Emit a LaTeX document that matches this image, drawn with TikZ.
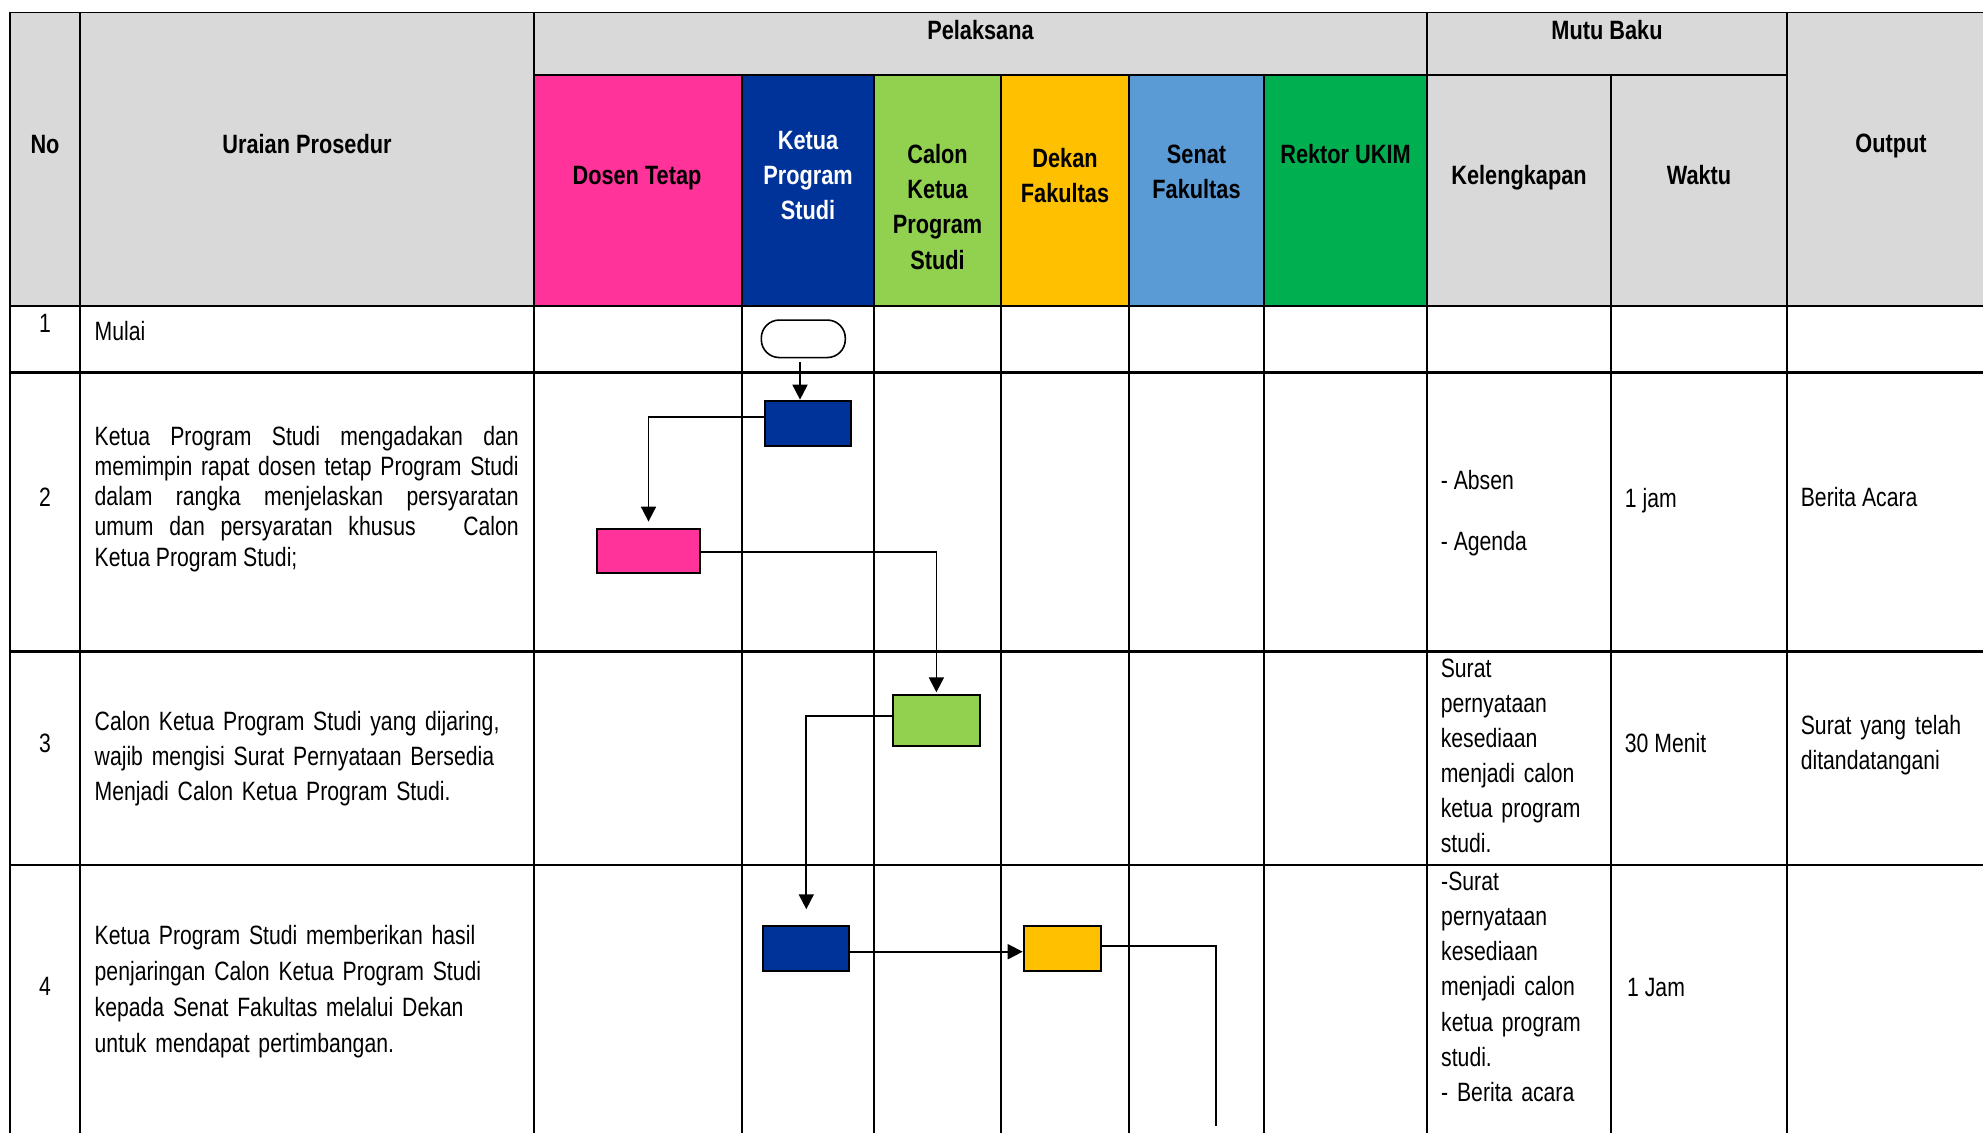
\documentclass[tikz,border=0pt]{standalone}
\usepackage{fontspec}
\setmainfont{Liberation Sans}[FakeStretch=0.80, BoldFeatures={FakeStretch=0.82}]
\usetikzlibrary{arrows.meta}
\definecolor{hdrgray}{HTML}{D9D9D9}
\definecolor{cpink}{HTML}{FF3399}
\definecolor{cblue}{HTML}{003399}
\definecolor{cgreen}{HTML}{92D050}
\definecolor{cyellow}{HTML}{FFC000}
\definecolor{csenat}{HTML}{5B9BD5}
\definecolor{crektor}{HTML}{00B050}
\newcommand\fsz{\fontsize{26.5}{30.3}\selectfont}
\newcommand\fszw{\fontsize{26.5}{35}\selectfont}
\newcommand\jl[1]{\leavevmode\hbox to 424pt{#1}\par}
\begin{document}
\begin{tikzpicture}[x=1pt,y=-1pt,
  txt/.style={inner sep=0pt, anchor=base west, font=\fsz},
  ptxt/.style={inner sep=0pt, anchor=base west, font=\fszw, align=left, text width=#1},
  num/.style={inner sep=0pt, anchor=base, font=\fsz},
  hdr/.style={inner sep=0pt, anchor=base, font=\bfseries\fsz},
  mhdr/.style={inner sep=0pt, anchor=base, font=\bfseries\fontsize{26.5}{35.3}\selectfont, align=center, text width=#1},
  hline/.style={line width=2.5pt},
  vline/.style={line width=1.8pt},
  fbox/.style={draw=black, line width=2pt, inner sep=0pt},
  term/.style={draw=black, line width=1.6pt, fill=white, rounded corners=18pt, minimum width=84pt, minimum height=37.5pt, inner sep=0pt},
  arr/.style={line width=1.8pt, -{Triangle[length=15pt,width=15pt]}},
  conn/.style={line width=1.6pt}]
\useasboundingbox (0,0) rectangle (1983,1133);
\fill[white] (0,0) rectangle (1983,1133);
% header fills
\fill[hdrgray] (10,12.3) rectangle (1983,306);
\fill[cpink] (534,75) rectangle (742,306);
\fill[cblue] (742,75) rectangle (874,306);
\fill[cgreen] (874,75) rectangle (1001,306);
\fill[cyellow] (1001,75) rectangle (1129,306);
\fill[csenat] (1129,75) rectangle (1264,306);
\fill[crektor] (1264,75) rectangle (1427,306);
% grid
\draw[line width=1.6pt] (10,12.3) -- (1983,12.3);
\draw[line width=1.6pt] (534,75) -- (1787,75);
\foreach \yy in {306,372.5,651.5,865} \draw[hline] (10,\yy) -- (1983,\yy);
\foreach \xx in {10,80,534,1427,1787} \draw[vline] (\xx,12.3) -- (\xx,1133);
\foreach \xx in {742,874,1001,1129,1264,1611} \draw[vline] (\xx,75) -- (\xx,1133);
% header texts
\node[hdr] (hno) at (45,153) {No};
\node[hdr] (hur) at (307,153) {Uraian Prosedur};
\node[hdr] (hpel) at (980.5,39) {Pelaksana};
\node[hdr] (hmut) at (1607,39) {Mutu Baku};
\node[hdr] (hout) at (1891,152.5) {Output};
\node[hdr] (hdos) at (637,184) {Dosen Tetap};
\node[mhdr=125pt, text=white] (hket) at (808,149) {Ketua\\Program\\Studi};
\node[mhdr=120pt] (hcal) at (937.5,163.3) {Calon\\Ketua\\Program\\Studi};
\node[mhdr=120pt] (hdek) at (1065,167.3) {Dekan\\Fakultas};
\node[mhdr=125pt] (hsen) at (1196.5,163.3) {Senat\\Fakultas};
\node[hdr] (hrek) at (1345.5,163.3) {Rektor UKIM};
\node[hdr] (hkel) at (1519,184) {Kelengkapan};
\node[hdr] (hwak) at (1699,184) {Waktu};
% row numbers
\node[num] (r1) at (45,332) {1};
\node[num] (r2) at (45,506) {2};
\node[num] (r3) at (45,752) {3};
\node[num] (r4) at (45,995.7) {4};
% uraian
\node[txt] (u1) at (94.5,340.7) {Mulai};
\node[txt] (u2) at (94.5,445) {\parbox[t]{424pt}{\fsz\jl{Ketua Program Studi mengadakan dan}\jl{memimpin rapat dosen tetap Program Studi}\jl{dalam rangka menjelaskan persyaratan}\jl{umum dan persyaratan khusus\ \ \ Calon}Ketua Program Studi;}};
\node[ptxt=440pt, font=\fontsize{26.5}{34.8}\selectfont] (u3) at (94.5,730.5) {Calon Ketua Program Studi yang dijaring,\\wajib mengisi Surat Pernyataan Bersedia\\Menjadi Calon Ketua Program Studi.};
\node[ptxt=440pt, font=\fontsize{26.5}{36}\selectfont] (u4) at (94.5,944) {Ketua Program Studi memberikan hasil\\penjaringan Calon Ketua Program Studi\\kepada Senat Fakultas melalui Dekan\\untuk mendapat pertimbangan.};
% kelengkapan
\node[txt] (k2a) at (1440.6,489) {- Absen};
\node[txt] (k2b) at (1440.6,550) {- Agenda};
\node[ptxt=165pt] (k3) at (1440.6,677) {Surat\\pernyataan\\kesediaan\\menjadi calon\\ketua program\\studi.};
\node[ptxt=165pt, font=\fontsize{26.5}{35.3}\selectfont] (k4) at (1441,890) {-Surat\\pernyataan\\kesediaan\\menjadi calon\\ketua program\\studi.\\- Berita acara};
% waktu
\node[txt] (w2) at (1624.7,507.5) {1 jam};
\node[txt] (w3) at (1624.7,752) {30 Menit};
\node[txt] (w4) at (1627,996.7) {1 Jam};
% output
\node[txt] (o2) at (1800.6,506) {Berita Acara};
\node[ptxt=175pt] (o3) at (1800.6,734) {Surat yang telah\\ditandatangani};
% flow shapes
\node[term] (t1) at (803.3,338.8) {};
\node[fbox, fill=cblue, minimum width=86pt, minimum height=45.5pt] (b1) at (808.2,423.4) {};
\node[fbox, fill=cpink, minimum width=103pt, minimum height=44pt] (p1) at (648.5,551.2) {};
\node[fbox, fill=cgreen, minimum width=87.5pt, minimum height=51pt] (g1) at (936.4,720.8) {};
\node[fbox, fill=cblue, minimum width=86pt, minimum height=45.5pt] (b2) at (806.3,948.7) {};
\node[fbox, fill=cyellow, minimum width=77pt, minimum height=45.5pt] (y1) at (1062.2,948.7) {};
\coordinate (yend) at (1215.7,1126);
% connectors
\draw[arr, shorten <=3.5pt] ([xshift=-3.3pt]t1.south) -- ([xshift=-3.3pt]t1.south |- b1.north);
\draw[arr, shorten >=6.6pt] ([yshift=6.7pt]b1.west) -| (p1.north);
\draw[arr, shorten >=2pt] ([yshift=-1pt]p1.east) -| (g1.north);
\draw[arr, shorten >=15.7pt] ([yshift=5pt]g1.west) -| (b2.north);
\draw[arr] ([yshift=-3pt]b2.east) -- ([yshift=-3pt]y1.west);
\draw[conn] ([yshift=2.7pt]y1.east) -| (yend);
\end{tikzpicture}
\end{document}
